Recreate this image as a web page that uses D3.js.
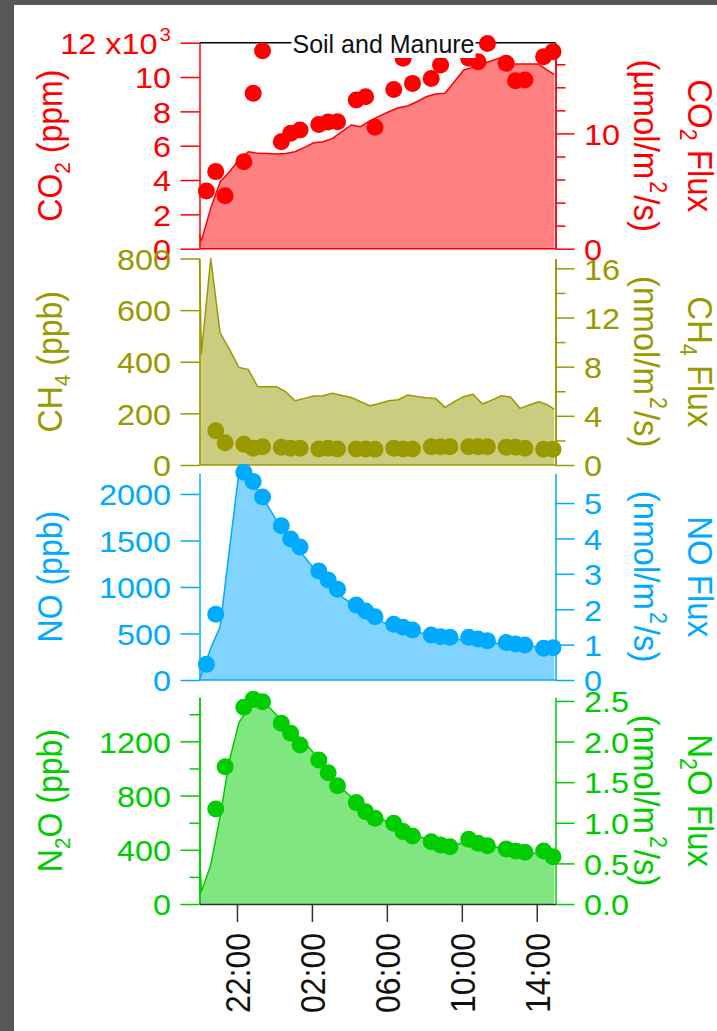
<!DOCTYPE html>
<html>
<head>
<meta charset="utf-8">
<script src="https://cdn.jsdelivr.net/npm/d3@7"></script>
<style>
  html, body { margin: 0; padding: 0; background: #575757; }
  svg { display: block; }
</style>
</head>
<body>
<div id="chart"></div>
<script>
// sampling times of the concentration dots (three per 2 h cycle)
const concTimes = ['20:22', '20:52', '21:22', '22:22', '22:52', '23:22', '00:22', '00:52', '01:22',
  '02:22', '02:52', '03:22', '04:22', '04:52', '05:22', '06:22', '06:52', '07:22', '08:22', '08:52',
  '09:22', '10:22', '10:52', '11:22', '12:22', '12:52', '13:22', '14:22', '14:52'];

const co2Ppm = [3360, 4490, 3090, 5070, 9050, 11530, 6230, 6720, 6910, 7240, 7380, 7400, 8660, 8850,
  7070, 9280, 11090, 9630, 9920, 10700, null, 11100, 10890, 11960, 10800, 9790, 9830, 11180, 11480];
const ch4Ppb = [null, 133, 86, 80, 65, 71, 69, 65, 65, 62, 65, 62, 62, 62, 61, 65, 62, 62, 71, 71,
  71, 71, 71, 71, 69, 69, 65, 61, 61];
const noPpb = [168, 706, null, 2233, 2133, 1968, 1659, 1516, 1430, 1172, 1075, 975, 806, 742, 681,
  599, 566, 538, 484, 466, 459, 459, 441, 423, 402, 387, 376, 341, 348];
const n2oPpb = [null, 701, 1013, 1451, 1510, 1493, 1333, 1260, 1173, 1063, 969, 873, 748, 681, 632,
  595, 534, 502, 460, 435, 423, 477, 448, 430, 406, 391, 381, 391, 349];

// flux series (filled areas, right axes)
const fluxTimes = ['20:00', '20:06', '20:36', '21:06', '21:36', '22:06', '22:36', '23:06', '23:36',
  '00:06', '00:36', '01:06', '01:36', '02:06', '02:36', '03:06', '03:36', '04:06', '04:36', '05:06',
  '05:36', '06:06', '06:36', '07:06', '07:36', '08:06', '08:36', '09:06', '09:36', '10:06', '10:36',
  '11:06', '11:36', '12:06', '12:36', '13:06', '13:36', '14:06', '14:36', '14:56'];

const co2Flux = [1.19, 0.7, 3.5, 5.81, 6.68, 7.69, 8.41, 8.27, 8.25, 8.21, 8.25, 8.41, 8.79, 9.19,
  9.28, 9.57, 10.15, 10.73, 10.58, 11.1, 11.5, 11.88, 12.23, 12.38, 12.75, 13.18, 13.42, 13.48, 14.48,
  15.5, 15.73, 16.02, 16.3, 16.6, 16.02, 16.02, 16.02, 16.02, 15.44, 15.12];
const ch4Flux = [16.8, 9.08, 16.8, 10.76, 9.4, 7.94, 7.78, 6.37, 6.37, 6.37, 5.96, 5.23, 5.42, 5.61,
  5.63, 5.83, 5.66, 5.5, 5.15, 4.82, 5.01, 5.23, 5.31, 5.69, 5.58, 5.47, 5.42, 4.69, 5.15, 5.56,
  5.75, 4.96, 5.28, 5.63, 5.53, 4.61, 4.88, 5.15, 4.88, 4.53];
const noFlux = [0, 0.16, 0.9, 1.5, 3.7, 5.85, 5.74, 5.37, 4.96, 4.52, 4.14, 3.83, 3.48, 3.16, 2.87,
  2.61, 2.35, 2.17, 2.01, 1.82, 1.67, 1.57, 1.49, 1.42, 1.36, 1.29, 1.23, 1.19, 1.16, 1.13, 1.1,
  1.07, 1.05, 1.02, 1.0, 0.98, 0.96, 0.93, 0.91, 0.91];
const n2oFlux = [0.66, 0.15, 0.48, 1.08, 1.77, 2.23, 2.41, 2.47, 2.45, 2.33, 2.23, 2.1, 1.99, 1.86,
  1.71, 1.56, 1.42, 1.32, 1.22, 1.14, 1.07, 1.0, 0.94, 0.89, 0.84, 0.8, 0.77, 0.74, 0.73, 0.75,
  0.75, 0.73, 0.71, 0.69, 0.67, 0.64, 0.63, 0.62, 0.6, 0.56];

// tick values
const timeTicks = ['22:00', '02:00', '06:00', '10:00', '14:00'];
const co2Ticks = [0, 2000, 4000, 6000, 8000, 10000, 12000];
const co2FluxTicks = [0, 10];
const co2FluxMinor = [2, 4, 6, 8, 12, 14, 16];
const ch4Ticks = [0, 200, 400, 600, 800];
const ch4FluxTicks = [0, 4, 8, 12, 16];
const ch4FluxMinor = [2, 6, 10, 14];
const noTicks = [0, 500, 1000, 1500, 2000];
const noFluxTicks = [0, 1, 2, 3, 4, 5];
const n2oTicks = [0, 400, 800, 1200];
const n2oMinor = [200, 600, 1000, 1400];
const n2oFluxTicks = [0, 0.5, 1.0, 1.5, 2.0, 2.5];

const W = 717, H = 1031;
const FONT = '"Liberation Sans", Arial, Helvetica, sans-serif';
const SX = 1.08; // glyphs in the original are a bit wider than tall
const X0 = 199.5, X1 = 555.5;

const svg = d3.select('#chart').append('svg')
  .attr('width', W)
  .attr('height', H)
  .attr('font-family', FONT);

svg.append('rect')
  .attr('x', 14).attr('y', 5)
  .attr('width', W - 14).attr('height', H - 5)
  .attr('fill', '#fff');

const parseHM = d3.timeParse('%H:%M');
function toDate(s) {
  const d = parseHM(s);
  if (d.getHours() < 16) d.setDate(d.getDate() + 1);
  return d;
}

const x = d3.scaleTime()
  .domain([toDate('20:00'), toDate('15:00')])
  .range([X0, X1]);

function rich(textSel, parts, size) {
  let shift = 0;
  parts.forEach(([t, kind]) => {
    const target = kind === 'sub' ? size * 0.22 : kind === 'sup' ? -size * 0.45 : 0;
    textSel.append('tspan')
      .attr('dy', target - shift)
      .attr('dx', kind === 'sup' ? 2 : (shift < 0 ? 2 : 0))
      .attr('font-size', kind ? size * 0.65 : size)
      .text(t);
    shift = target;
  });
}

function yAxis(g, scale, side, major, minor, fmt, color) {
  const make = side === 'left' ? d3.axisLeft : d3.axisRight;
  const sign = side === 'left' ? -1 : 1;
  if (minor.length) {
    g.append('g').call(make(scale).tickValues(minor).tickSize(10).tickSizeOuter(0).tickFormat(''));
  }
  const ax = g.append('g')
    .call(make(scale).tickValues(major).tickSize(19).tickSizeOuter(0).tickFormat(fmt));
  g.selectAll('g').attr('font-family', FONT);
  g.selectAll('path, line').attr('stroke', color).attr('stroke-width', 1.5);
  ax.selectAll('.tick text')
    .attr('fill', color)
    .attr('font-size', 30)
    .attr('x', sign * 28.5 / SX)
    .attr('dy', '0.36em')
    .attr('transform', `scale(${SX},1)`);
  return ax;
}

const panels = [
  {
    color: '#ff0000', fill: '#ff8080', top: 42.7, bottom: 248.7,
    leftMax: 12000, rightMax: 17.87, conc: co2Ppm, flux: co2Flux,
    leftMajor: co2Ticks, leftMinor: [], leftFmt: d => d === 12000 ? '12 x10' : String(d / 1000),
    rightMajor: co2FluxTicks, rightMinor: co2FluxMinor, rightFmt: d3.format('d'),
    title: [['CO'], ['2', 'sub'], [' (ppm)']],
    fluxTitle: [['CO'], ['2', 'sub'], [' Flux']],
    unit: [['(µmol/m'], ['2', 'sup'], ['/s)']]
  },
  {
    color: '#999900', fill: '#cccc80', top: 258.5, bottom: 465,
    leftMax: 800, rightMax: 16.8, conc: ch4Ppb, flux: ch4Flux,
    leftMajor: ch4Ticks, leftMinor: [], leftFmt: d3.format('d'),
    rightMajor: ch4FluxTicks, rightMinor: ch4FluxMinor, rightFmt: d3.format('d'),
    title: [['CH'], ['4', 'sub'], [' (ppb)']],
    fluxTitle: [['CH'], ['4', 'sub'], [' Flux']],
    unit: [['(nmol/m'], ['2', 'sup'], ['/s)']]
  },
  {
    color: '#00aaff', fill: '#80d4ff', top: 473.3, bottom: 680,
    leftMax: 2222, rightMax: 5.84, conc: noPpb, flux: noFlux,
    leftMajor: noTicks, leftMinor: [], leftFmt: d3.format('d'),
    rightMajor: noFluxTicks, rightMinor: [], rightFmt: d3.format('d'),
    title: [['NO (ppb)']],
    fluxTitle: [['NO Flux']],
    unit: [['(nmol/m'], ['2', 'sup'], ['/s)']]
  },
  {
    color: '#00cc00', fill: '#80e680', top: 697.3, bottom: 904,
    leftMax: 1525, rightMax: 2.545, conc: n2oPpb, flux: n2oFlux,
    leftMajor: n2oTicks, leftMinor: n2oMinor, leftFmt: d3.format('d'),
    rightMajor: n2oFluxTicks, rightMinor: [], rightFmt: d3.format('.1f'),
    title: [['N'], ['2', 'sub'], ['O (ppb)']],
    fluxTitle: [['N'], ['2', 'sub'], ['O Flux']],
    unit: [['(nmol/m'], ['2', 'sup'], ['/s)']],
    xAxis: true
  }
];

const dotLayer = [];

panels.forEach(p => {
  const yL = d3.scaleLinear().domain([0, p.leftMax]).range([p.bottom, p.top]);
  const yR = d3.scaleLinear().domain([0, p.rightMax]).range([p.bottom, p.top]);
  const g = svg.append('g');

  const fluxData = fluxTimes.map((t, i) => ({ t: toDate(t), v: p.flux[i] }));
  g.append('path')
    .datum(fluxData)
    .attr('d', d3.area().x(d => x(d.t)).y0(yR(0)).y1(d => yR(d.v)))
    .attr('fill', p.fill);
  g.append('path')
    .datum(fluxData)
    .attr('d', d3.line().x(d => x(d.t)).y(d => yR(d.v)))
    .attr('fill', 'none')
    .attr('stroke', p.color)
    .attr('stroke-width', 1.5)
    .attr('stroke-linejoin', 'round');

  if (!p.xAxis) {
    g.append('line')
      .attr('x1', X0).attr('x2', X1)
      .attr('y1', p.bottom).attr('y2', p.bottom)
      .attr('stroke', p.color)
      .attr('stroke-width', 1.5);
  }

  const left = yAxis(g.append('g').attr('transform', `translate(${X0},0)`),
    yL, 'left', p.leftMajor, p.leftMinor, p.leftFmt, p.color);
  yAxis(g.append('g').attr('transform', `translate(${X1},0)`),
    yR, 'right', p.rightMajor, p.rightMinor, p.rightFmt, p.color);

  left.selectAll('.tick text')
    .filter(d => d === 12000)
    .append('tspan')
    .attr('dx', 2)
    .attr('dy', -13)
    .attr('font-size', 19)
    .text('3');

  const cy = (p.top + p.bottom) / 2;
  rich(svg.append('text')
    .attr('transform', `translate(62,${cy}) rotate(-90) scale(1,${SX})`)
    .attr('text-anchor', 'middle')
    .attr('fill', p.color), p.title, 32);
  rich(svg.append('text')
    .attr('transform', `translate(688,${cy}) rotate(90) scale(1,${SX})`)
    .attr('text-anchor', 'middle')
    .attr('fill', p.color), p.fluxTitle, 33);
  rich(svg.append('text')
    .attr('transform', `translate(634,${cy}) rotate(90) scale(1,${SX})`)
    .attr('text-anchor', 'middle')
    .attr('fill', p.color), p.unit, 33);

  dotLayer.push({ p, yL });
});

// bottom time axis
const xg = svg.append('g')
  .attr('transform', `translate(0,${panels[3].bottom})`)
  .call(d3.axisBottom(x)
    .tickValues(timeTicks.map(toDate))
    .tickSize(18)
    .tickSizeOuter(0)
    .tickFormat(d3.timeFormat('%H:%M')));
xg.attr('font-family', FONT);
xg.selectAll('path, line').attr('stroke', '#333').attr('stroke-width', 1.5);
xg.selectAll('.tick text')
  .attr('x', null).attr('y', null).attr('dy', null)
  .attr('text-anchor', 'end')
  .attr('font-size', 32)
  .attr('fill', '#111')
  .attr('transform', `translate(12.3,29) rotate(-90) scale(1,${SX})`);

// top frame line of the first panel
svg.append('line')
  .attr('x1', X0).attr('x2', X1)
  .attr('y1', panels[0].top).attr('y2', panels[0].top)
  .attr('stroke', '#000')
  .attr('stroke-width', 1.5);

// concentration dots
dotLayer.forEach(({ p, yL }) => {
  const pts = concTimes
    .map((t, i) => ({ t: toDate(t), v: p.conc[i] }))
    .filter(d => d.v != null);
  svg.append('g').selectAll('circle')
    .data(pts)
    .join('circle')
    .attr('cx', d => x(d.t))
    .attr('cy', d => yL(d.v))
    .attr('r', 8.5)
    .attr('fill', p.color);
});

// annotation with white box
const note = svg.append('g');
const noteBox = note.append('rect').attr('fill', '#fff');
const noteText = note.append('text')
  .attr('x', 383.5)
  .attr('y', 53)
  .attr('text-anchor', 'middle')
  .attr('font-size', 25)
  .attr('fill', '#111')
  .text('Soil and Manure');
const bb = noteText.node().getBBox();
noteBox
  .attr('x', bb.x - 1)
  .attr('y', bb.y)
  .attr('width', bb.width + 2)
  .attr('height', bb.height);
</script>
</body>
</html>
